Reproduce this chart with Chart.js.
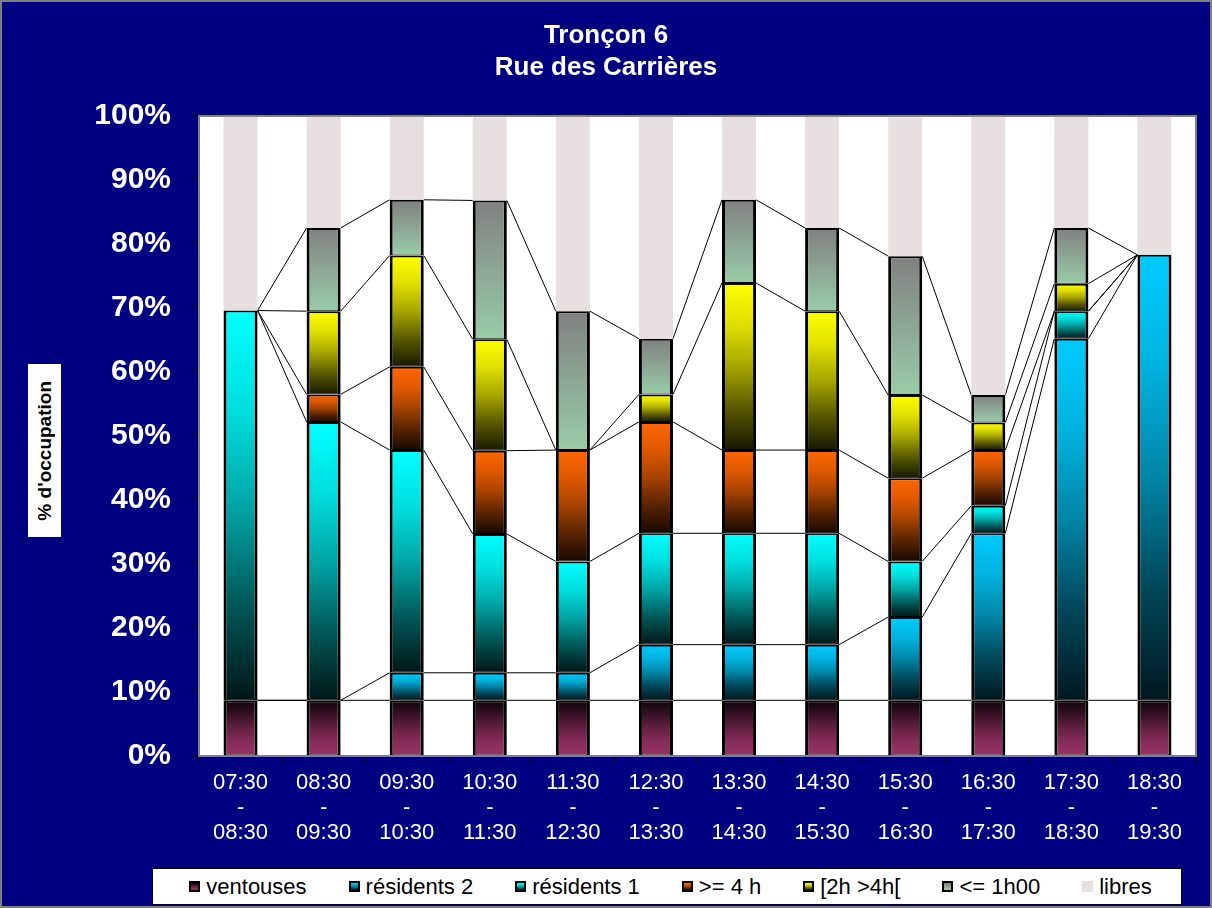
<!DOCTYPE html>
<html>
<head>
<meta charset="utf-8">
<script src="https://cdn.jsdelivr.net/npm/chart.js@4.4.1/dist/chart.umd.min.js"></script>
<style>
    html, body { margin: 0; padding: 0; background: #000080; }
    #wrap { position: relative; width: 1212px; height: 908px; background: #000080; overflow: hidden;
            font-family: "Liberation Sans", Arial, sans-serif; }
    #frame { position: absolute; left: 0; top: 0; width: 1212px; height: 908px; box-sizing: border-box;
             border: 2px solid #808080; pointer-events: none; }
    #yTitle { position: absolute; left: 28px; top: 364px; width: 33px; height: 173px; background: #fff;
              display: flex; align-items: center; justify-content: center; }
    #yTitle span { writing-mode: vertical-rl; transform: rotate(180deg); font-weight: bold; font-size: 19px;
                   color: #000; white-space: nowrap; }
    #legend { position: absolute; left: 152px; top: 868px; width: 1030px; height: 37px; box-sizing: border-box;
              border: 1px solid #000; background: #fff; display: flex; align-items: center;
              justify-content: center; gap: 42px; font-size: 22px; color: #000; padding-left: 7px; }
    .item { display: flex; align-items: center; gap: 6px; white-space: nowrap; }
    .mark { width: 11px; height: 11px; box-sizing: border-box; border: 2px solid #000; }
</style>
</head>
<body>
<div id="wrap">
    <canvas id="chart" width="1212" height="908"></canvas>
    <div id="yTitle"><span>% d'occupation</span></div>
    <div id="legend"></div>
    <div id="frame"></div>
</div>
<script>
// Créneaux horaires (axe X)
const categories = [
    ['07:30', '-', '08:30'], ['08:30', '-', '09:30'], ['09:30', '-', '10:30'], ['10:30', '-', '11:30'],
    ['11:30', '-', '12:30'], ['12:30', '-', '13:30'], ['13:30', '-', '14:30'], ['14:30', '-', '15:30'],
    ['15:30', '-', '16:30'], ['16:30', '-', '17:30'], ['17:30', '-', '18:30'], ['18:30', '-', '19:30']
];

// % d'occupation par catégorie (23 places)
const ventouses  = [8.7, 8.7, 8.7, 8.7, 8.7, 8.7, 8.7, 8.7, 8.7, 8.7, 8.7, 8.7];
const residents2 = [0, 0, 4.3, 4.3, 4.3, 8.7, 8.7, 8.7, 13.0, 26.1, 56.5, 69.6];
const residents1 = [60.9, 43.5, 34.8, 21.7, 17.4, 17.4, 17.4, 17.4, 8.7, 4.3, 4.3, 0];
const plus4h     = [0, 4.3, 13.0, 13.0, 17.4, 17.4, 13.0, 13.0, 13.0, 8.7, 0, 0];
const from2to4h  = [0, 13.0, 17.4, 17.4, 0, 4.3, 26.1, 21.7, 13.0, 4.3, 4.3, 0];
const under1h    = [0, 13.0, 8.7, 21.7, 21.7, 8.7, 13.0, 13.0, 21.7, 4.3, 8.7, 0];
const libres     = [30.4, 17.4, 13.0, 13.0, 30.4, 34.8, 13.0, 17.4, 21.7, 43.5, 17.4, 21.7];

const seriesNames = ['ventouses', 'résidents 2', 'résidents 1', '>= 4 h', '[2h >4h[', '<= 1h00', 'libres'];
const seriesData = [ventouses, residents2, residents1, plus4h, from2to4h, under1h, libres];

// dégradés haut -> bas (arrêts répartis régulièrement)
const seriesFill = [
    ['#0c0408', '#351224', '#632142', '#862d59', '#993366'],
    ['#00ccff', '#00b3df', '#0085a6', '#004759', '#001820'],
    ['#00ffff', '#00dfdf', '#00a6a6', '#005959', '#001616'],
    ['#ff6600', '#df5900', '#a64200', '#592300', '#180800'],
    ['#ffff00', '#dfdf00', '#a6a600', '#595900', '#181800'],
    ['#808080', '#99cca8'],
    ['#e8e0e0']
];

const FONT = '"Liberation Sans", Arial, sans-serif';

function segmentFill(k) {
    return (ctx) => {
        const chart = ctx.chart;
        const stops = seriesFill[k];
        if (!chart.chartArea || ctx.type !== 'data' || stops.length === 1) return stops[0];
        const y = chart.scales.y;
        const i = ctx.dataIndex;
        let base = 0;
        for (let s = 0; s < k; s++) base += seriesData[s][i];
        const top = base + seriesData[k][i];
        const y0 = y.getPixelForValue(top);
        const y1 = y.getPixelForValue(base);
        if (y1 - y0 < 1) return stops[0];
        const g = chart.ctx.createLinearGradient(0, y0, 0, y1);
        stops.forEach((col, j) => g.addColorStop(j / (stops.length - 1), col));
        return g;
    };
}

// fond blanc + cadre gris de la zone de tracé
const plotFrame = {
    id: 'plotFrame',
    beforeDraw(chart) {
        const { left, top, width, height } = chart.chartArea;
        const c = chart.ctx;
        c.save();
        c.fillStyle = '#fff';
        c.fillRect(left, top, width, height);
        c.restore();
    },
    afterDraw(chart) {
        const { left, top, width, height } = chart.chartArea;
        const c = chart.ctx;
        c.save();
        c.strokeStyle = '#808080';
        c.lineWidth = 2;
        c.strokeRect(left, top, width, height);
        c.restore();
    }
};

// lignes de série entre les barres (style Excel)
const seriesLines = {
    id: 'seriesLines',
    beforeDatasetsDraw(chart) {
        const c = chart.ctx;
        c.save();
        c.strokeStyle = '#000';
        c.lineWidth = 1;
        for (let k = 0; k < seriesData.length - 1; k++) {
            const meta = chart.getDatasetMeta(k);
            for (let i = 0; i < meta.data.length - 1; i++) {
                const a = meta.data[i];
                const b = meta.data[i + 1];
                c.beginPath();
                c.moveTo(a.x + a.width / 2, a.y);
                c.lineTo(b.x - b.width / 2, b.y);
                c.stroke();
            }
        }
        c.restore();
    }
};

const datasets = seriesNames.map((name, k) => ({
    label: name,
    data: seriesData[k],
    backgroundColor: segmentFill(k),
    borderColor: '#000',
    borderWidth: k === seriesNames.length - 1 ? 0 : { top: 2, right: 3, bottom: 1, left: 3 },
    borderSkipped: false,
    barPercentage: 0.41,
    categoryPercentage: 1
}));

new Chart(document.getElementById('chart'), {
    type: 'bar',
    data: { labels: categories, datasets },
    options: {
        responsive: false,
        animation: false,
        devicePixelRatio: 1,
        layout: { padding: { left: 16, right: 16, top: 0, bottom: 52 } },
        plugins: {
            legend: { display: false },
            tooltip: { enabled: false },
            title: {
                display: true,
                text: ['Tronçon 6', 'Rue des Carrières'],
                color: '#fff',
                font: { family: FONT, size: 26, weight: 'bold', lineHeight: 1.23 },
                padding: { top: 20, bottom: 32 }
            }
        },
        scales: {
            x: {
                stacked: true,
                grid: { offset: true, drawOnChartArea: false, tickLength: 7, color: '#000' },
                border: { display: false },
                ticks: { color: '#fff', font: { family: FONT, size: 22, lineHeight: 1.14 }, padding: 7,
                         maxRotation: 0, autoSkip: false },
                afterFit: (s) => { s.height = 100; }
            },
            y: {
                stacked: true,
                min: 0,
                max: 100,
                ticks: { stepSize: 10, callback: (v) => v + '%', color: '#fff',
                         font: { family: FONT, size: 30, weight: 'bold' }, padding: 21 },
                grid: { drawOnChartArea: false, tickLength: 7, color: '#000' },
                border: { display: false },
                afterFit: (s) => { s.width = 183; }
            }
        }
    },
    plugins: [plotFrame, seriesLines]
});

// légende
const legend = document.getElementById('legend');
seriesNames.forEach((name, k) => {
    const stops = seriesFill[k];
    const item = document.createElement('div');
    item.className = 'item';
    const mark = document.createElement('span');
    mark.className = 'mark';
    mark.style.background = stops.length > 1 ? `linear-gradient(${stops.join(', ')})` : stops[0];
    if (k === seriesNames.length - 1) mark.style.border = 'none';
    const txt = document.createElement('span');
    txt.textContent = name;
    item.appendChild(mark);
    item.appendChild(txt);
    legend.appendChild(item);
});
</script>
</body>
</html>
